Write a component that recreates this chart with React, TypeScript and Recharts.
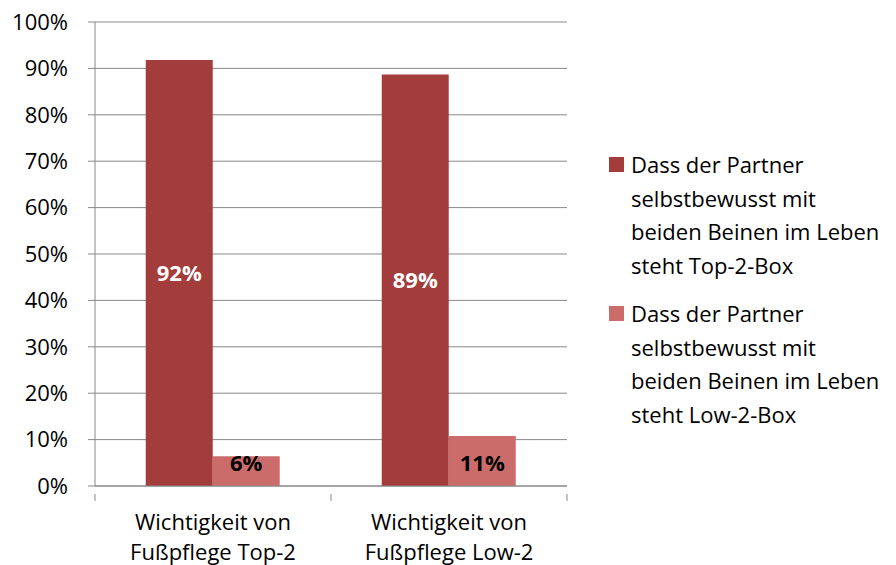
import { Bar, BarChart, CartesianGrid, LabelList, Legend, XAxis, YAxis } from "recharts";

const categories = ["Wichtigkeit von Fußpflege Top-2", "Wichtigkeit von Fußpflege Low-2"];
const categoryLines = [
  ["Wichtigkeit von", "Fußpflege Top-2"],
  ["Wichtigkeit von", "Fußpflege Low-2"],
];
const topBox = [91.8, 88.7];
const lowBox = [6.4, 10.8];
const yTicks = [0, 10, 20, 30, 40, 50, 60, 70, 80, 90, 100];
const seriesNames = [
  ["Dass der Partner", "selbstbewusst mit", "beiden Beinen im Leben", "steht Top-2-Box"],
  ["Dass der Partner", "selbstbewusst mit", "beiden Beinen im Leben", "steht Low-2-Box"],
];

const COLORS = ["#A33D3C", "#CB6C6A"];
const FONT = "'Open Sans', 'Noto Sans', sans-serif";
const FS = 22;

const data = categories.map((name, i) => ({ name, top: topBox[i], low: lowBox[i] }));

function CategoryTick(props: any) {
  const { x, y, payload, index } = props;
  const lines = categoryLines[index] ?? [payload.value];
  const half = 472 / categories.length / 2;
  return (
    <g>
      <line x1={x - half} x2={x - half} y1={y} y2={y + 7} stroke="#888" />
      {index === categories.length - 1 ? (
        <line x1={x + half} x2={x + half} y1={y} y2={y + 7} stroke="#888" />
      ) : null}
      {lines.map((line: string, i: number) => (
        <text key={i} x={x} y={y + 36 + i * 30} textAnchor="middle" fontSize={FS} fill="#000" fontFamily={FONT}>
          {line}
        </text>
      ))}
    </g>
  );
}

function LegendContent() {
  return (
    <div style={{ fontFamily: FONT, fontSize: FS, color: "#000" }}>
      {seriesNames.map((lines, i) => (
        <div key={i} style={{ display: "flex", marginBottom: i === 0 ? 15 : 0 }}>
          <div style={{ width: 15, height: 15, background: COLORS[i], marginTop: 9, marginRight: 7, flexShrink: 0 }} />
          <div style={{ lineHeight: "33.5px", whiteSpace: "nowrap" }}>
            {lines.map((l, j) => (
              <div key={j}>{l}</div>
            ))}
          </div>
        </div>
      ))}
    </div>
  );
}

export default function App() {
  return (
    <div style={{ position: "absolute", left: 0, top: 0, background: "#fff", overflow: "hidden", width: 896, height: 565 }}>
      <BarChart
        width={896}
        height={565}
        data={data}
        margin={{ top: 22, right: 42, bottom: 0, left: 0 }}
        barCategoryGap="21.5%"
        barGap={0}
      >
        <CartesianGrid vertical={false} stroke="#888" />
        <XAxis dataKey="name" height={79} stroke="#888" tickLine={false} tick={<CategoryTick />} interval={0} />
        <YAxis
          width={95}
          domain={[0, 100]}
          ticks={yTicks}
          tickFormatter={(v: number) => `${v}%`}
          stroke="#888"
          tickSize={7}
          tickMargin={20}
          tick={{ fontSize: FS, fill: "#000", fontFamily: FONT }}
        />
        <Legend
          layout="vertical"
          align="right"
          verticalAlign="top"
          content={<LegendContent />}
          wrapperStyle={{ left: 609, top: 148, width: 287 }}
        />
        <Bar dataKey="top" fill={COLORS[0]} isAnimationActive={false}>
          <LabelList
            dataKey="top"
            position="center"
            formatter={(v: any) => `${Math.round(v)}%`}
            fill="#fff"
            fontWeight="bold"
            fontSize={FS}
            fontFamily={FONT}
          />
        </Bar>
        <Bar dataKey="low" fill={COLORS[1]} isAnimationActive={false}>
          <LabelList
            dataKey="low"
            position="insideBottom"
            offset={15}
            formatter={(v: any) => `${Math.round(v)}%`}
            fill="#000"
            fontWeight="bold"
            fontSize={FS}
            fontFamily={FONT}
          />
        </Bar>
      </BarChart>
    </div>
  );
}
